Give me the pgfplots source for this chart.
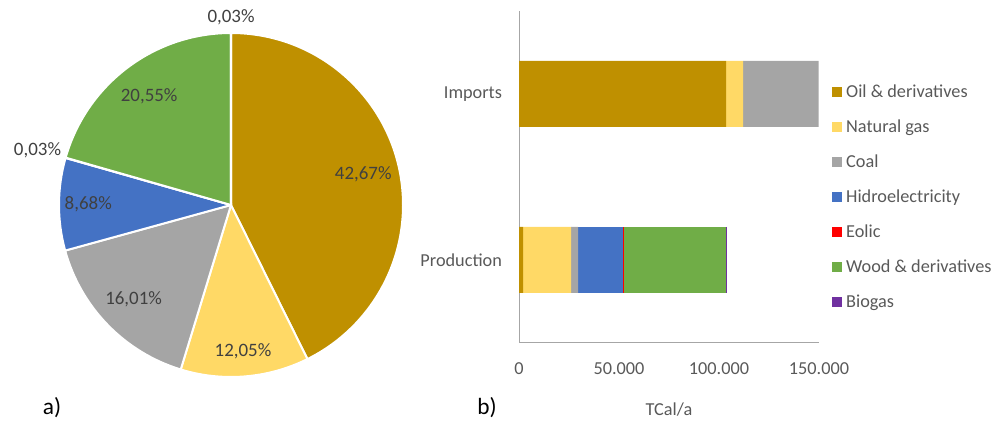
\documentclass[border=0pt]{standalone}
\usepackage{pgfplots}
\pgfplotsset{compat=1.18}
\usepackage{fontspec}
\setmainfont{Carlito}
\definecolor{oilc}{HTML}{BF9000}
\definecolor{gasc}{HTML}{FFD966}
\definecolor{coalc}{HTML}{A5A5A5}
\definecolor{hydroc}{HTML}{4472C4}
\definecolor{eolc}{HTML}{FF0000}
\definecolor{woodc}{HTML}{70AD47}
\definecolor{bioc}{HTML}{7030A0}
\definecolor{txt}{HTML}{595959}
\definecolor{pietxt}{HTML}{404040}
\definecolor{axc}{HTML}{A6A6A6}
\pgfkeys{/pgf/number format/assume math mode=true}
\begin{document}
\begin{tikzpicture}[font=\fontsize{13.7}{16}\selectfont]
\useasboundingbox (0pt,0pt) rectangle (750pt,315.75pt);
% ---------- a) pie ----------
\begin{axis}[at={(173.25pt,162pt)}, anchor=center, scale only axis,
  width=258pt, height=258pt, xmin=-1, xmax=1, ymin=-1, ymax=1,
  hide axis, clip=false]
\xdef\cum{0}
\foreach \v/\c/\lr in {42.67/oilc/0.79, 12.05/gasc/0.855, 16.01/coalc/0.79,
   8.68/hydroc/0.83, 0.03/eolc/1.17, 20.55/woodc/0.79, 0.03/bioc/1.09}{
  \pgfmathsetmacro\sa{90-3.6*\cum}
  \pgfmathsetmacro\ea{90-3.6*(\cum+\v)}
  \pgfmathsetmacro\ma{(\sa+\ea)/2}
  \pgfmathsetmacro\sx{cos(\sa)}
  \pgfmathsetmacro\sy{sin(\sa)}
  \pgfmathsetmacro\lx{\lr*cos(\ma)}
  \pgfmathsetmacro\ly{\lr*sin(\ma)}
  \pgfmathsetmacro\newcum{\cum+\v}
  \xdef\cum{\newcum}
  \edef\temp{\noexpand\fill[fill=\c, draw=white, line width=1.5pt, line join=round]
      (axis cs:0,0) -- (axis cs:\sx,\sy) arc[start angle=\sa, end angle=\ea, radius=129pt] -- cycle;
    \noexpand\node[text=pietxt, font=\noexpand\fontsize{14.2}{16}\noexpand\selectfont] at (axis cs:\lx,\ly)
      {\noexpand\pgfmathprintnumber[use comma,fixed,fixed zerofill,precision=2]{\v}\noexpand\%};}
  \temp
}
\end{axis}
% ---------- b) stacked bars ----------
\begin{axis}[at={(389.25pt,58.5pt)}, anchor=south west, scale only axis,
  width=225pt, height=249pt,
  xbar stacked, bar width=49.5pt,
  xmin=0, xmax=150000, ymin=-0.5, ymax=1.5,
  xtick={0,50000,100000,150000}, ytick={0,1}, yticklabels={Production,Imports},
  scaled x ticks=false,
  xticklabel style={/pgf/number format/fixed, /pgf/number format/precision=0,
    /pgf/number format/1000 sep={.}, yshift=-11pt},
  yticklabel style={xshift=-9.25pt},
  axis x line*=bottom, axis y line*=left,
  axis line style={-, draw=axc, line width=0.75pt},
  major tick length=0pt, tick style={draw=none},
  tick label style={text=txt},
  xlabel={TCal/a},
  xlabel style={at={(axis description cs:0.5,0)}, anchor=center, yshift=-50.25pt, text=txt},
  legend cell align=left,
  legend style={at={(1.043,0.8087)}, anchor=north west, draw=none, fill=none,
    inner sep=0pt, column sep=3pt,
    nodes={inner sep=0pt, minimum height=26.25pt, text=txt}},
  legend image code/.code={\fill[#1] (0pt,-3.75pt) rectangle (7.5pt,3.75pt);},
  clip=false]
\addplot[fill=oilc, draw=none] coordinates {(103500,1) (2000,0)};
\addplot[fill=gasc, draw=none] coordinates {(8500,1) (24000,0)};
\addplot[fill=coalc, draw=none] coordinates {(37850,1) (3500,0)};
\addplot[fill=hydroc, draw=none] coordinates {(0,1) (22500,0)};
\addplot[fill=eolc, draw=none] coordinates {(0,1) (100,0)};
\addplot[fill=woodc, draw=none] coordinates {(0,1) (51300,0)};
\addplot[fill=bioc, draw=none] coordinates {(0,1) (400,0)};
\legend{Oil \& derivatives, Natural gas, Coal, Hidroelectricity, Eolic, Wood \& derivatives, Biogas}
\end{axis}
\node[font=\fontsize{17.5}{20}\selectfont] at (39pt,9.75pt) {a)};
\node[font=\fontsize{17.5}{20}\selectfont] at (365.25pt,9.75pt) {b)};
\end{tikzpicture}
\end{document}
